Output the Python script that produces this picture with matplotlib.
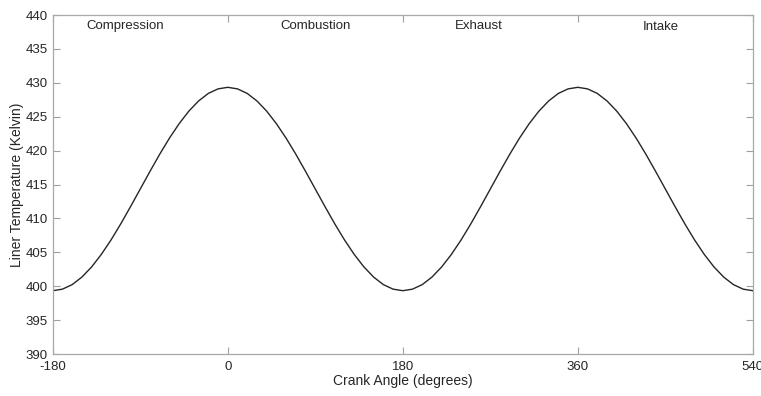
import numpy as np
import matplotlib.pyplot as plt

plt.rcParams['font.family'] = ['Liberation Sans', 'DejaVu Sans']
plt.rcParams['axes.unicode_minus'] = False

# Crank angle (deg) and liner temperature (K)
crank_angle = np.arange(-180, 541, 10)
rise = [399.34, 399.57, 400.24, 401.35, 402.85, 404.70, 406.84, 409.21, 411.74,
        414.34, 416.94, 419.47, 421.84, 423.98, 425.83, 427.33, 428.44, 429.11, 429.34]
# one cycle: BDC -> TDC -> BDC, repeated twice
cycle = rise + rise[-2::-1]
liner_temp = np.array(cycle + cycle[1:])

stroke_names = ["Compression", "Combustion", "Exhaust", "Intake"]
stroke_x = [-105, 90, 258, 445]
stroke_y = [438.4, 438.4, 438.4, 438.2]

xticks = [-180, 0, 180, 360, 540]
yticks = np.arange(390, 441, 5)

fig = plt.figure(figsize=(7.61, 3.96), dpi=100)
ax = fig.add_axes([0.0693, 0.106, 0.92, 0.856])

ax.plot(crank_angle, liner_temp, color="#262626", lw=1.0)

for name, x, y in zip(stroke_names, stroke_x, stroke_y):
    ax.text(x, y, name, ha="center", va="center", fontsize=9.5, color="#262626")

ax.set_xlim(-180, 540)
ax.set_ylim(390, 440)
ax.set_xticks(xticks)
ax.set_yticks(yticks)
ax.tick_params(direction="in", length=5, width=0.8, color="#a0a0a0",
               labelcolor="#262626", labelsize=9.5, top=True, right=True)
ax.tick_params(axis="x", pad=5)
for s in ax.spines.values():
    s.set_color("#a8a8a8")
    s.set_linewidth(0.9)

ax.set_xlabel("Crank Angle (degrees)", fontsize=10, color="#262626", labelpad=1)
ax.set_ylabel("Liner Temperature (Kelvin)", fontsize=10, color="#262626", labelpad=1)

fig.savefig("out.png", dpi=100)
